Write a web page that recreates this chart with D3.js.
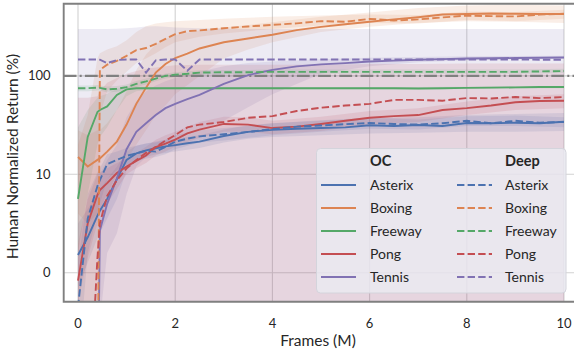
<!DOCTYPE html>
<html>
<head>
<meta charset="utf-8">
<script src="https://d3js.org/d3.v7.min.js"></script>
<style>
  body { margin: 0; background: #fff; }
  svg { font-family: 'Lato', sans-serif; display: block; }
</style>
</head>
<body>
<div id="chart"></div>
<script>
// ---- data ----
const games = ['Asterix', 'Boxing', 'Freeway', 'Pong', 'Tennis'];
const methods = ['OC', 'Deep'];
const xTicks = [0, 2, 4, 6, 8, 10];
const yTicks = [0, 10, 100];

// frames (M) for the mean lines
const frames = [0, 0.2, 0.4, 0.45, 0.6, 0.8, 1, 1.2, 1.4, 1.6, 1.8, 2, 2.25, 2.5, 3, 3.5, 4, 4.5, 5, 5.5, 6, 6.5, 7, 7.5, 8, 8.5, 9, 9.5, 10];

const ocAsterix = [1.8, 3.6, 5.8, 6.3, 7.5, 9.5, 14, 16.3, 17.5, 18.4, 19.2, 19.8, 20.7, 21.5, 24.5, 27, 28.3, 29, 29.5, 30, 31.5, 31, 31.7, 31, 33.2, 33, 33.4, 33, 34.2];
const ocBoxing = [15, 12, 14, 14.5, 17, 21.5, 32, 52, 76, 108, 132, 152, 168, 190, 220, 240, 262, 292, 315, 335, 355, 375, 395, 420, 425, 430, 428, 425, 425];
const ocFreeway = [7.5, 24, 43, 45, 49, 64, 73, 75, 75, 75, 75, 75, 75, 75, 75, 75, 75, 75, 75, 75, 75, 75, 74.5, 75, 75.5, 76, 76.5, 77, 77];
const ocPong = [-0.8, 5, 7.9, 8.4, 9.1, 10.3, 12, 13.7, 15.5, 18.9, 20.5, 22.5, 26, 28.5, 32.5, 32, 29.5, 30.5, 32.5, 35, 37.5, 39, 40, 45, 47, 50, 54, 55.5, 56];
const ocTennis = [-50, -50, -50, 4.3, 7, 9.6, 18, 27, 33, 40, 47, 52, 58, 64, 83, 102, 115, 125, 131, 135, 140, 143, 146, 148, 150, 151, 152, 153, 154];

const deepAsterix = [-3.5, 5.5, 8.8, 9.4, 12.7, 14, 15.4, 16.3, 17.3, 17, 19, 21.5, 23, 24.3, 25.5, 27, 28.8, 30.5, 31.3, 32.3, 33.2, 32.5, 32, 33, 35, 33, 35, 33.5, 34];
const deepBoxing = [-50, -50, -50, 115, 130, 142, 160, 183, 192, 212, 238, 265, 285, 290, 305, 318, 330, 342, 360, 355, 380, 365, 375, 393, 410, 405, 402, 420, 428];
const deepFreeway = [75, 75, 76, 75.5, 73, 74, 77, 83, 88, 94, 100, 103, 105, 108, 109, 109, 110, 110, 110, 110, 110, 110, 110, 110, 110, 110, 110, 111, 112];
const deepPong = [-50, -50, 1.5, 5, 7.8, 9.4, 11.5, 14, 16.5, 19, 22, 25, 30, 32, 34, 37.5, 39, 44, 47.5, 50, 52, 57, 57, 56, 59.5, 59, 61, 59.5, 61];
const deepTennis = [147, 147, 147, 146, 135, 145, 147, 147, 108, 144, 147, 147, 113, 147, 147, 147, 147, 147, 147, 147, 147, 147, 147, 147, 147, 147, 147, 146, 146];

// frames (M) for the shaded spread
const bandX = [0, 0.2, 0.4, 0.45, 0.6, 0.8, 1, 1.2, 1.4, 1.6, 1.8, 2, 2.5, 3, 3.5, 4, 5, 6, 7, 8, 9, 10];

const ocAsterixLo = [-1.5, 1, 3.5, 4, 5.5, 7.5, 11, 13.5, 15, 16, 16.5, 17, 18.5, 21, 23, 24, 25, 26, 26.5, 27, 27, 27.5];
const ocAsterixHi = [5, 6.5, 8, 8.5, 9.5, 12, 17, 19.5, 20.5, 21.5, 22.5, 23, 25, 28.5, 31.5, 33, 35, 37, 38, 40, 41, 42];
const ocBoxingLo = [6, 5, 6, 6.5, 8, 10, 14, 20, 28, 40, 50, 65, 100, 150, 185, 220, 280, 315, 345, 360, 355, 345];
const ocBoxingHi = [28, 25, 28, 28, 33, 45, 70, 115, 165, 210, 240, 260, 290, 310, 330, 350, 400, 440, 490, 520, 530, 520];
const ocFreewayLo = [2, 8, 20, 24, 30, 45, 62, 70, 72, 72.5, 73, 73, 73, 73, 73, 73, 73, 73, 73, 73.5, 74.5, 75];
const ocFreewayHi = [30, 45, 60, 62, 66, 74, 78, 78, 77.5, 77, 77, 77, 77, 77, 77, 77, 77, 77, 77, 77.5, 78.5, 79];
const ocPongLo = [-3, 1.5, 5, 6, 7, 8.5, 10, 11.5, 13, 15.5, 17, 19, 23.5, 27, 27, 25.5, 27.5, 32, 34, 40, 45, 47];
const ocPongHi = [3, 7.5, 10, 10.5, 11.5, 13, 14.5, 16.5, 19, 22.5, 25, 27, 34, 38.5, 38, 35, 38.5, 44, 47, 55, 62, 65];
const ocTennisLo = [-80, -80, -80, -5, 2, 4, 8, 12, 15, 18, 21, 24, 28, 35, 48, 65, 105, 125, 138, 144, 147, 149];
const ocTennisHi = [-50, -50, -50, 10, 14, 20, 38, 55, 70, 80, 88, 95, 110, 125, 135, 140, 148, 153, 156, 158, 159, 160];

const deepAsterixLo = [-10, 2, 6, 7, 9.5, 11, 12.5, 13.5, 14.5, 15, 16, 18, 21, 22, 23.5, 25, 27, 29, 28.5, 31, 31, 30];
const deepAsterixHi = [1, 8, 10.5, 11.5, 16, 17, 18.5, 19.5, 20.5, 21, 22.5, 25, 28, 29.5, 31, 33, 35.5, 37.5, 36, 39, 39.5, 38];
const deepBoxingLo = [-80, -80, -80, 40, 70, 90, 110, 135, 150, 170, 195, 220, 250, 270, 285, 300, 325, 345, 340, 370, 360, 380];
const deepBoxingHi = [20, 40, 150, 170, 185, 200, 230, 280, 320, 340, 350, 360, 370, 380, 390, 400, 410, 420, 415, 450, 445, 470];
const deepFreewayLo = [70, 70, 71, 71, 68, 69, 72, 77, 82, 88, 94, 97, 102, 104, 104, 105, 105, 105, 105, 105, 105, 107];
const deepFreewayHi = [80, 80, 81, 80, 78, 79, 82, 89, 94, 100, 106, 109, 114, 115, 115, 116, 116, 116, 116, 116, 116, 118];
const deepPongLo = [-80, -80, -80, -80, -80, -80, -80, -80, -80, -80, -80, -80, -80, -80, -80, -80, -80, -80, -80, -80, -80, -80];
const deepPongHi = [60, 60, 62, 70, 85, 95, 105, 112, 118, 122, 125, 128, 130, 130, 130, 130, 130, 132, 132, 134, 134, 134];
const deepTennisLo = [-80, -80, -80, -80, -80, -80, -80, -80, -80, -80, -80, -80, -80, -80, -80, -80, -80, -80, -80, -80, -80, -80];
const deepTennisHi = [300, 300, 300, 300, 300, 302, 305, 310, 318, 320, 315, 310, 305, 302, 300, 300, 300, 300, 300, 300, 300, 300];

const colors = {Asterix: '#4c72b0', Boxing: '#dd8452', Freeway: '#55a868', Pong: '#c44e52', Tennis: '#8172b3'};

const series = [
  {game: 'Asterix', method: 'OC', vals: ocAsterix, lo: ocAsterixLo, hi: ocAsterixHi},
  {game: 'Boxing', method: 'OC', vals: ocBoxing, lo: ocBoxingLo, hi: ocBoxingHi},
  {game: 'Freeway', method: 'OC', vals: ocFreeway, lo: ocFreewayLo, hi: ocFreewayHi},
  {game: 'Pong', method: 'OC', vals: ocPong, lo: ocPongLo, hi: ocPongHi},
  {game: 'Tennis', method: 'OC', vals: ocTennis, lo: ocTennisLo, hi: ocTennisHi},
  {game: 'Asterix', method: 'Deep', vals: deepAsterix, lo: deepAsterixLo, hi: deepAsterixHi},
  {game: 'Boxing', method: 'Deep', vals: deepBoxing, lo: deepBoxingLo, hi: deepBoxingHi},
  {game: 'Freeway', method: 'Deep', vals: deepFreeway, lo: deepFreewayLo, hi: deepFreewayHi},
  {game: 'Pong', method: 'Deep', vals: deepPong, lo: deepPongLo, hi: deepPongHi},
  {game: 'Tennis', method: 'Deep', vals: deepTennis, lo: deepTennisLo, hi: deepTennisHi}
];

// ---- layout ----
const W = 574, H = 351;
const box = {left: 63.7, top: 3.8, right: 620, bottom: 301.8};

// symmetric log: linear up to 10, log10 above
function symlog(v) {
  const a = Math.abs(v);
  const t = a <= 10 ? a / 10 : 1 + Math.log10(a / 10);
  return v < 0 ? -t : t;
}
const x = d3.scaleLinear().domain([0, 10]).range([78, 564]);
const yLin = d3.scaleLinear().domain([0, 2]).range([272.7, 75.9]);
const y = v => yLin(symlog(v));

const svg = d3.select('#chart').append('svg')
  .attr('width', W).attr('height', H);

svg.append('clipPath').attr('id', 'clip')
  .append('rect')
  .attr('x', box.left).attr('y', box.top)
  .attr('width', box.right - box.left).attr('height', box.bottom - box.top);

// grid
const grid = svg.append('g').attr('stroke', '#d2d2d2').attr('stroke-width', 1.1);
xTicks.forEach(t => {
  grid.append('line').attr('x1', x(t)).attr('x2', x(t)).attr('y1', box.top).attr('y2', box.bottom);
});
yTicks.forEach(t => {
  grid.append('line').attr('x1', box.left).attr('x2', box.right).attr('y1', y(t)).attr('y2', y(t));
});

const plot = svg.append('g').attr('clip-path', 'url(#clip)');

// shaded spread
series.forEach(s => {
  const area = d3.area()
    .x((d, i) => x(bandX[i]))
    .y0((d, i) => y(s.lo[i]))
    .y1((d, i) => y(s.hi[i]));
  plot.append('path')
    .datum(bandX)
    .attr('d', area)
    .attr('fill', colors[s.game])
    .attr('fill-opacity', 0.14)
    .attr('stroke', 'none');
});

// human level reference
plot.append('line')
  .attr('x1', box.left).attr('x2', box.right)
  .attr('y1', y(100)).attr('y2', y(100))
  .attr('stroke', '#808080').attr('stroke-width', 2.2)
  .attr('stroke-dasharray', '12.8,3.2,2,3.2');

// mean lines
series.forEach(s => {
  const line = d3.line()
    .x((d, i) => x(frames[i]))
    .y(d => y(d));
  plot.append('path')
    .datum(s.vals)
    .attr('d', line)
    .attr('fill', 'none')
    .attr('stroke', colors[s.game])
    .attr('stroke-width', 1.9)
    .attr('stroke-dasharray', s.method === 'Deep' ? '7.4,3.2' : null);
});

// spines
const spine = svg.append('g').attr('stroke', '#808080').attr('stroke-width', 1.9).attr('fill', 'none');
spine.append('path')
  .attr('d', `M${box.right},${box.top}H${box.left}V${box.bottom}H${box.right}`);

// tick labels
svg.append('g').selectAll('text').data(xTicks).join('text')
  .attr('x', d => x(d)).attr('y', 327.5)
  .attr('text-anchor', 'middle')
  .attr('font-size', 13).attr('fill', '#262626')
  .text(d => d);
svg.append('g').selectAll('text').data(yTicks).join('text')
  .attr('x', 50.5).attr('y', d => y(d) + 4.5)
  .attr('text-anchor', 'end')
  .attr('font-size', 13).attr('fill', '#262626')
  .text(d => d);

// axis titles
svg.append('text')
  .attr('x', 318).attr('y', 346)
  .attr('text-anchor', 'middle')
  .attr('font-size', 15.5).attr('fill', '#262626')
  .text('Frames (M)');
svg.append('text')
  .attr('transform', 'translate(17.5,156.5) rotate(-90)')
  .attr('text-anchor', 'middle')
  .attr('font-size', 15.5).attr('fill', '#262626')
  .text('Human Normalized Return (%)');

// legend
const lg = svg.append('g');
lg.append('rect')
  .attr('x', 316.5).attr('y', 148.5).attr('width', 249.5).attr('height', 144.5)
  .attr('rx', 4)
  .attr('fill', '#eaeaf2').attr('fill-opacity', 0.82)
  .attr('stroke', '#d4d4dc').attr('stroke-width', 1);

const cols = [{line: 321, text: 370}, {line: 457, text: 505}];
methods.forEach((m, j) => {
  lg.append('text')
    .attr('x', cols[j].text).attr('y', 166)
    .attr('font-size', 14.5).attr('font-weight', 'bold').attr('fill', '#262626')
    .text(m);
  games.forEach((g, i) => {
    const cy = 185 + i * 23;
    lg.append('line')
      .attr('x1', cols[j].line).attr('x2', cols[j].line + 35)
      .attr('y1', cy).attr('y2', cy)
      .attr('stroke', colors[g]).attr('stroke-width', 1.9)
      .attr('stroke-dasharray', m === 'Deep' ? '7.4,3.2' : null);
    lg.append('text')
      .attr('x', cols[j].text).attr('y', cy + 5)
      .attr('font-size', 14).attr('fill', '#262626')
      .text(g);
  });
});
</script>
</body>
</html>
